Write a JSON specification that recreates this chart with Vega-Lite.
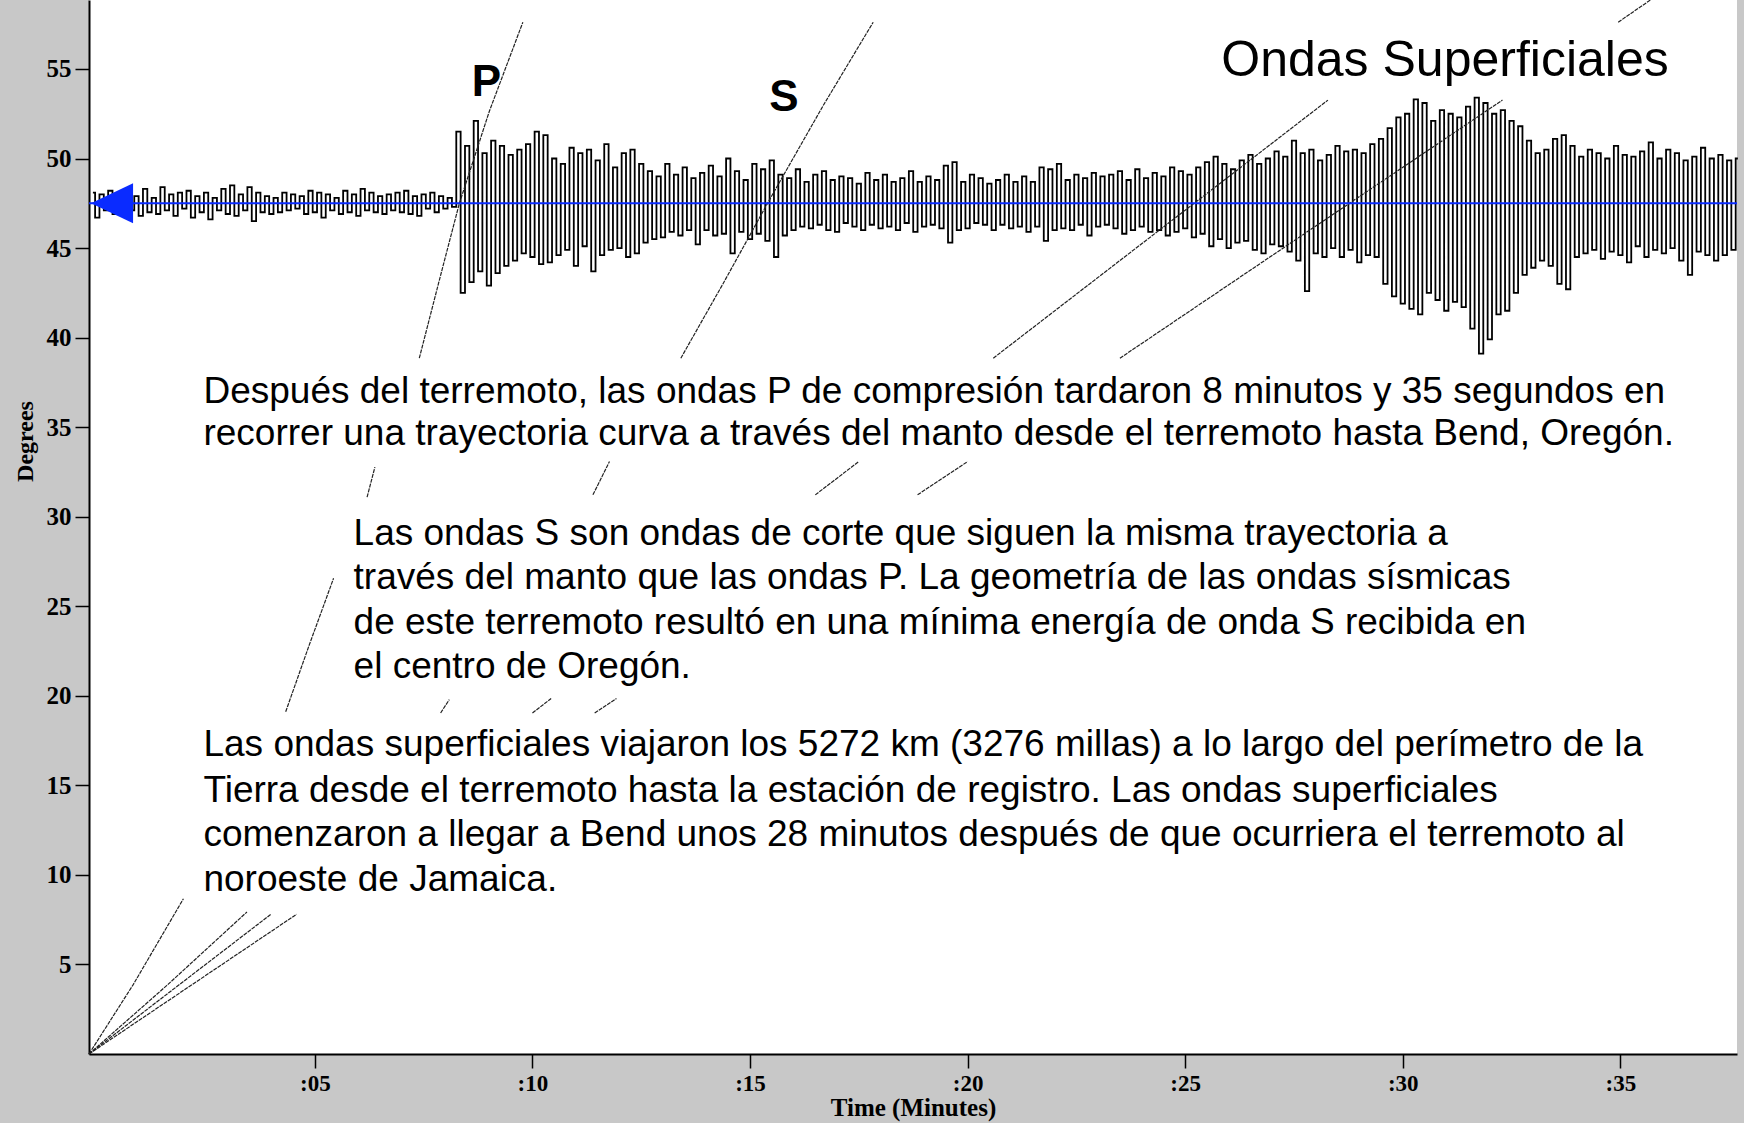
{
  "$schema": "https://vega.github.io/schema/vega-lite/v6.json",
  "width": 1648,
  "height": 1054,
  "autosize": {"type": "none"},
  "padding": {"left": 89, "top": 0, "right": 7, "bottom": 69},
  "background": "#c8c8c8",
  "config": {"view": {"fill": "white", "stroke": null}},
  "datasets": {
    "trace": [
      {"t":-0.1,"v":48.1},{"t":0.0,"v":46.7},{"t":0.1,"v":48.0},{"t":0.2,"v":47.1},{"t":0.3,"v":48.2},{"t":0.4,"v":46.9},{"t":0.5,"v":47.8},{"t":0.6,"v":47.0},{"t":0.7,"v":48.1},{"t":0.8,"v":47.1},
      {"t":0.9,"v":47.9},{"t":1.0,"v":46.8},{"t":1.1,"v":48.3},{"t":1.2,"v":47.0},{"t":1.3,"v":47.8},{"t":1.4,"v":46.9},{"t":1.5,"v":48.4},{"t":1.6,"v":47.1},{"t":1.7,"v":48.0},{"t":1.8,"v":46.8},
      {"t":1.9,"v":48.1},{"t":2.0,"v":47.2},{"t":2.1,"v":48.2},{"t":2.2,"v":46.7},{"t":2.3,"v":47.9},{"t":2.4,"v":47.0},{"t":2.5,"v":48.1},{"t":2.6,"v":46.6},{"t":2.7,"v":47.8},{"t":2.8,"v":47.1},
      {"t":2.9,"v":48.3},{"t":3.0,"v":46.9},{"t":3.1,"v":48.5},{"t":3.2,"v":46.8},{"t":3.3,"v":48.0},{"t":3.4,"v":47.1},{"t":3.5,"v":48.4},{"t":3.6,"v":46.5},{"t":3.7,"v":48.1},{"t":3.8,"v":47.0},
      {"t":3.9,"v":47.9},{"t":4.0,"v":46.9},{"t":4.1,"v":47.8},{"t":4.2,"v":47.0},{"t":4.3,"v":48.1},{"t":4.4,"v":47.1},{"t":4.5,"v":48.0},{"t":4.6,"v":47.2},{"t":4.7,"v":47.9},{"t":4.8,"v":46.9},
      {"t":4.9,"v":48.2},{"t":5.0,"v":47.0},{"t":5.1,"v":48.1},{"t":5.2,"v":46.7},{"t":5.3,"v":48.0},{"t":5.4,"v":47.1},{"t":5.5,"v":47.8},{"t":5.6,"v":46.9},{"t":5.7,"v":48.2},{"t":5.8,"v":47.0},
      {"t":5.9,"v":48.0},{"t":6.0,"v":46.8},{"t":6.1,"v":48.3},{"t":6.2,"v":47.1},{"t":6.3,"v":48.1},{"t":6.4,"v":47.0},{"t":6.5,"v":47.9},{"t":6.6,"v":46.9},{"t":6.7,"v":48.0},{"t":6.8,"v":47.1},
      {"t":6.9,"v":48.1},{"t":7.0,"v":47.0},{"t":7.1,"v":48.2},{"t":7.2,"v":46.9},{"t":7.3,"v":47.9},{"t":7.4,"v":46.8},{"t":7.5,"v":48.0},{"t":7.6,"v":47.2},{"t":7.7,"v":48.1},{"t":7.8,"v":47.0},
      {"t":7.9,"v":47.9},{"t":8.0,"v":47.2},{"t":8.1,"v":47.8},{"t":8.2,"v":47.3},
      {"t":8.3,"v":51.5},{"t":8.4,"v":42.5},{"t":8.5,"v":50.7},{"t":8.6,"v":43.1},{"t":8.7,"v":52.1},{"t":8.8,"v":43.7},{"t":8.9,"v":50.3},{"t":9.0,"v":42.9},{"t":9.1,"v":51.0},{"t":9.2,"v":43.6},
      {"t":9.3,"v":50.7},{"t":9.4,"v":44.0},{"t":9.5,"v":50.2},{"t":9.6,"v":44.3},{"t":9.7,"v":50.5},{"t":9.8,"v":44.7},{"t":9.9,"v":50.8},{"t":10.0,"v":44.5},{"t":10.1,"v":51.5},{"t":10.2,"v":44.1},
      {"t":10.3,"v":51.3},{"t":10.4,"v":44.2},{"t":10.5,"v":50.0},{"t":10.6,"v":44.6},{"t":10.7,"v":49.7},{"t":10.8,"v":44.9},{"t":10.9,"v":50.6},{"t":11.0,"v":44.0},{"t":11.1,"v":50.3},{"t":11.2,"v":45.1},
      {"t":11.3,"v":50.5},{"t":11.4,"v":43.7},{"t":11.5,"v":49.9},{"t":11.6,"v":44.6},{"t":11.7,"v":50.8},{"t":11.8,"v":44.9},{"t":11.9,"v":49.5},{"t":12.0,"v":45.0},{"t":12.1,"v":50.3},{"t":12.2,"v":44.5},
      {"t":12.3,"v":50.5},{"t":12.4,"v":44.7},{"t":12.5,"v":49.7},{"t":12.6,"v":45.3},{"t":12.7,"v":49.3},{"t":12.8,"v":45.5},{"t":12.9,"v":49.0},{"t":13.0,"v":45.6},{"t":13.1,"v":49.7},{"t":13.2,"v":45.9},
      {"t":13.3,"v":49.1},{"t":13.4,"v":45.7},{"t":13.5,"v":49.5},{"t":13.6,"v":46.0},{"t":13.7,"v":48.9},{"t":13.8,"v":45.2},{"t":13.9,"v":49.2},{"t":14.0,"v":46.0},{"t":14.1,"v":49.6},{"t":14.2,"v":45.7},
      {"t":14.3,"v":49.0},{"t":14.4,"v":45.8},{"t":14.5,"v":50.0},{"t":14.6,"v":44.7},{"t":14.7,"v":49.3},{"t":14.8,"v":45.9},{"t":14.9,"v":48.8},{"t":15.0,"v":45.5},{"t":15.1,"v":49.7},{"t":15.2,"v":45.8},
      {"t":15.3,"v":49.4},{"t":15.4,"v":45.4},{"t":15.5,"v":49.9},{"t":15.6,"v":44.5},{"t":15.7,"v":49.1},{"t":15.8,"v":45.7},{"t":15.9,"v":48.9},{"t":16.0,"v":46.0},{"t":16.1,"v":49.4},{"t":16.2,"v":46.2},
      {"t":16.3,"v":48.7},{"t":16.4,"v":46.1},{"t":16.5,"v":49.1},{"t":16.6,"v":46.3},{"t":16.7,"v":49.3},{"t":16.8,"v":46.0},{"t":16.9,"v":48.8},{"t":17.0,"v":45.9},{"t":17.1,"v":49.0},{"t":17.2,"v":46.4},
      {"t":17.3,"v":48.9},{"t":17.4,"v":46.2},{"t":17.5,"v":48.6},{"t":17.6,"v":46.0},{"t":17.7,"v":49.2},{"t":17.8,"v":46.3},{"t":17.9,"v":48.8},{"t":18.0,"v":46.1},{"t":18.1,"v":49.1},{"t":18.2,"v":46.2},
      {"t":18.3,"v":48.7},{"t":18.4,"v":46.0},{"t":18.5,"v":48.9},{"t":18.6,"v":46.4},{"t":18.7,"v":49.3},{"t":18.8,"v":45.9},{"t":18.9,"v":48.7},{"t":19.0,"v":46.2},{"t":19.1,"v":49.0},{"t":19.2,"v":46.3},
      {"t":19.3,"v":48.8},{"t":19.4,"v":46.1},{"t":19.5,"v":49.6},{"t":19.6,"v":45.3},{"t":19.7,"v":49.8},{"t":19.8,"v":46.0},{"t":19.9,"v":48.7},{"t":20.0,"v":46.1},{"t":20.1,"v":49.1},{"t":20.2,"v":46.4},
      {"t":20.3,"v":48.9},{"t":20.4,"v":46.3},{"t":20.5,"v":48.6},{"t":20.6,"v":46.0},{"t":20.7,"v":48.8},{"t":20.8,"v":46.3},{"t":20.9,"v":49.1},{"t":21.0,"v":46.1},{"t":21.1,"v":48.7},{"t":21.2,"v":46.2},
      {"t":21.3,"v":49.0},{"t":21.4,"v":45.9},{"t":21.5,"v":48.7},{"t":21.6,"v":46.2},{"t":21.7,"v":49.5},{"t":21.8,"v":45.4},{"t":21.9,"v":49.4},{"t":22.0,"v":46.0},{"t":22.1,"v":49.7},{"t":22.2,"v":46.1},
      {"t":22.3,"v":48.8},{"t":22.4,"v":46.0},{"t":22.5,"v":49.1},{"t":22.6,"v":46.3},{"t":22.7,"v":48.9},{"t":22.8,"v":45.7},{"t":22.9,"v":49.2},{"t":23.0,"v":46.2},{"t":23.1,"v":49.0},{"t":23.2,"v":46.3},
      {"t":23.3,"v":49.1},{"t":23.4,"v":46.1},{"t":23.5,"v":49.3},{"t":23.6,"v":45.8},{"t":23.7,"v":48.8},{"t":23.8,"v":46.0},{"t":23.9,"v":49.4},{"t":24.0,"v":46.2},{"t":24.1,"v":48.9},{"t":24.2,"v":45.9},
      {"t":24.3,"v":49.2},{"t":24.4,"v":46.0},{"t":24.5,"v":49.0},{"t":24.6,"v":45.7},{"t":24.7,"v":49.5},{"t":24.8,"v":45.9},{"t":24.9,"v":49.3},{"t":25.0,"v":46.1},{"t":25.1,"v":49.1},{"t":25.2,"v":45.6},
      {"t":25.3,"v":49.5},{"t":25.4,"v":45.8},{"t":25.5,"v":49.8},{"t":25.6,"v":45.1},{"t":25.7,"v":50.1},{"t":25.8,"v":45.5},{"t":25.9,"v":49.7},{"t":26.0,"v":45.0},{"t":26.1,"v":49.4},{"t":26.2,"v":45.3},
      {"t":26.3,"v":49.9},{"t":26.4,"v":45.4},{"t":26.5,"v":50.2},{"t":26.6,"v":44.9},{"t":26.7,"v":49.7},{"t":26.8,"v":44.7},{"t":26.9,"v":50.0},{"t":27.0,"v":45.2},{"t":27.1,"v":50.4},{"t":27.2,"v":45.1},
      {"t":27.3,"v":50.1},{"t":27.4,"v":44.8},{"t":27.5,"v":51.0},{"t":27.6,"v":44.3},{"t":27.7,"v":50.3},{"t":27.8,"v":42.6},{"t":27.9,"v":50.5},{"t":28.0,"v":44.7},{"t":28.1,"v":49.9},{"t":28.2,"v":44.5},
      {"t":28.3,"v":50.2},{"t":28.4,"v":45.0},{"t":28.5,"v":50.7},{"t":28.6,"v":44.5},{"t":28.7,"v":50.4},{"t":28.8,"v":44.9},{"t":28.9,"v":50.5},{"t":29.0,"v":44.2},{"t":29.1,"v":50.3},{"t":29.2,"v":44.6},
      {"t":29.3,"v":50.8},{"t":29.4,"v":44.5},{"t":29.5,"v":51.1},{"t":29.6,"v":43.0},{"t":29.7,"v":51.7},{"t":29.8,"v":42.3},{"t":29.9,"v":52.3},{"t":30.0,"v":41.9},{"t":30.1,"v":52.5},{"t":30.2,"v":41.6},
      {"t":30.3,"v":53.3},{"t":30.4,"v":41.3},{"t":30.5,"v":53.1},{"t":30.6,"v":42.5},{"t":30.7,"v":52.1},{"t":30.8,"v":42.1},{"t":30.9,"v":52.7},{"t":31.0,"v":41.5},{"t":31.1,"v":52.5},{"t":31.2,"v":42.0},
      {"t":31.3,"v":52.3},{"t":31.4,"v":41.7},{"t":31.5,"v":52.9},{"t":31.6,"v":40.5},{"t":31.7,"v":53.4},{"t":31.8,"v":39.1},{"t":31.9,"v":53.1},{"t":32.0,"v":39.9},{"t":32.1,"v":52.5},{"t":32.2,"v":41.3},
      {"t":32.3,"v":52.7},{"t":32.4,"v":41.5},{"t":32.5,"v":52.1},{"t":32.6,"v":42.5},{"t":32.7,"v":51.8},{"t":32.8,"v":43.5},{"t":32.9,"v":51.0},{"t":33.0,"v":43.9},{"t":33.1,"v":50.3},{"t":33.2,"v":44.3},
      {"t":33.3,"v":50.5},{"t":33.4,"v":44.0},{"t":33.5,"v":51.1},{"t":33.6,"v":43.0},{"t":33.7,"v":51.3},{"t":33.8,"v":42.7},{"t":33.9,"v":50.7},{"t":34.0,"v":44.5},{"t":34.1,"v":50.1},{"t":34.2,"v":44.7},
      {"t":34.3,"v":50.5},{"t":34.4,"v":44.9},{"t":34.5,"v":50.3},{"t":34.6,"v":44.4},{"t":34.7,"v":50.0},{"t":34.8,"v":44.8},{"t":34.9,"v":50.7},{"t":35.0,"v":44.6},{"t":35.1,"v":50.2},{"t":35.2,"v":44.2},
      {"t":35.3,"v":50.1},{"t":35.4,"v":45.1},{"t":35.5,"v":50.4},{"t":35.6,"v":44.5},{"t":35.7,"v":50.9},{"t":35.8,"v":44.9},{"t":35.9,"v":50.0},{"t":36.0,"v":44.7},{"t":36.1,"v":50.5},{"t":36.2,"v":45.0},
      {"t":36.3,"v":50.3},{"t":36.4,"v":44.3},{"t":36.5,"v":49.9},{"t":36.6,"v":43.5},{"t":36.7,"v":50.1},{"t":36.8,"v":44.8},{"t":36.9,"v":50.6},{"t":37.0,"v":44.6},{"t":37.1,"v":50.0},{"t":37.2,"v":44.3},
      {"t":37.3,"v":50.2},{"t":37.4,"v":44.6},{"t":37.5,"v":49.9},{"t":37.6,"v":44.9},{"t":37.7,"v":50.0}
    ],
    "curves": [
      {"seg":"P1","t":-0.19,"d":0},{"seg":"P1","t":0.83,"d":3.89},{"seg":"P1","t":1.98,"d":8.67},
      {"seg":"P2","t":4.33,"d":19.11},{"seg":"P2","t":4.87,"d":22.83},{"seg":"P2","t":5.43,"d":26.56},
      {"seg":"P3","t":6.2,"d":31.09},{"seg":"P3","t":6.38,"d":32.77},
      {"seg":"P4","t":7.4,"d":38.85},{"seg":"P4","t":7.86,"d":43.2},{"seg":"P4","t":8.32,"d":47.49},{"seg":"P4","t":9.01,"d":52.64},{"seg":"P4","t":9.78,"d":57.61},
      {"seg":"S1","t":-0.19,"d":0},{"seg":"S1","t":1.6,"d":3.83},{"seg":"S1","t":3.44,"d":7.93},
      {"seg":"S2","t":7.89,"d":19.04},{"seg":"S2","t":8.09,"d":19.79},
      {"seg":"S3","t":11.39,"d":31.22},{"seg":"S3","t":11.77,"d":33.08},
      {"seg":"S4","t":13.41,"d":38.85},{"seg":"S4","t":14.38,"d":43.01},{"seg":"S4","t":15.4,"d":47.49},{"seg":"S4","t":16.68,"d":52.95},{"seg":"S4","t":17.83,"d":57.61},
      {"seg":"L1","t":-0.19,"d":0},{"seg":"L1","t":3.99,"d":7.8},
      {"seg":"L2","t":10.0,"d":19.04},{"seg":"L2","t":10.43,"d":19.85},
      {"seg":"L3","t":16.5,"d":31.22},{"seg":"L3","t":17.5,"d":33.08},
      {"seg":"L4","t":20.59,"d":38.85},{"seg":"L4","t":28.28,"d":53.26},
      {"seg":"R1","t":-0.19,"d":0},{"seg":"R1","t":4.58,"d":7.8},
      {"seg":"R2","t":11.43,"d":19.04},{"seg":"R2","t":11.93,"d":19.85},
      {"seg":"R3","t":18.85,"d":31.22},{"seg":"R3","t":20.0,"d":33.08},
      {"seg":"R4","t":23.5,"d":38.85},{"seg":"R4","t":32.29,"d":53.26},
      {"seg":"R5","t":34.95,"d":57.61},{"seg":"R5","t":35.69,"d":58.85}
    ],
    "notes": [
      {"t":2.44,"d":36.99,"txt":"Después del terremoto, las ondas P de compresión tardaron 8 minutos y 35 segundos en"},
      {"t":2.44,"d":34.63,"txt":"recorrer una trayectoria curva a través del manto desde el terremoto hasta Bend, Oregón."},
      {"t":5.89,"d":29.04,"txt":"Las ondas S son ondas de corte que siguen la misma trayectoria a"},
      {"t":5.89,"d":26.56,"txt":"través del manto que las ondas P. La geometría de las ondas sísmicas"},
      {"t":5.89,"d":24.07,"txt":"de este terremoto resultó en una mínima energía de onda S recibida en"},
      {"t":5.89,"d":21.59,"txt":"el centro de Oregón."},
      {"t":2.44,"d":17.24,"txt":"Las ondas superficiales viajaron los 5272 km (3276 millas) a lo largo del perímetro de la"},
      {"t":2.44,"d":14.7,"txt":"Tierra desde el terremoto hasta la estación de registro. Las ondas superficiales"},
      {"t":2.44,"d":12.21,"txt":"comenzaron a llegar a Bend unos 28 minutos después de que ocurriera el terremoto al"},
      {"t":2.44,"d":9.73,"txt":"noroeste de Jamaica."}
    ],
    "phases": [
      {"t":8.94,"d":54.19,"txt":"P"},
      {"t":15.78,"d":53.38,"txt":"S"}
    ],
    "surface": [
      {"t":30.97,"d":55.43,"txt":"Ondas Superficiales"}
    ],
    "baseline": [
      {"t":0.34,"v":47.5}
    ]
  },
  "layer": [
    {
      "data": {"name": "trace"},
      "mark": {"type": "line", "color": "black", "strokeWidth": 1.8, "interpolate": "step"},
      "encoding": {
        "x": {
          "field": "t", "type": "quantitative",
          "scale": {"domain": [-0.19, 37.68], "nice": false, "zero": false},
          "axis": {
            "values": [5, 10, 15, 20, 25, 30, 35],
            "labelExpr": "':' + (datum.value < 10 ? '0' : '') + datum.value",
            "grid": false,
            "domainColor": "black", "domainWidth": 2,
            "tickColor": "black", "tickWidth": 1.5, "tickSize": 14,
            "labelFont": "Liberation Serif", "labelFontWeight": "bold", "labelFontSize": 23, "labelColor": "black",
            "labelPadding": 4,
            "title": "Time (Minutes)",
            "titleFont": "Liberation Serif", "titleFontWeight": "bold", "titleFontSize": 25, "titleColor": "black",
            "titleBaseline": "alphabetic", "titleY": 61
          }
        },
        "y": {
          "field": "v", "type": "quantitative",
          "scale": {"domain": [0, 58.85], "nice": false, "zero": false},
          "axis": {
            "values": [5, 10, 15, 20, 25, 30, 35, 40, 45, 50, 55],
            "grid": false,
            "domainColor": "black", "domainWidth": 2,
            "tickColor": "black", "tickWidth": 1.5, "tickSize": 14,
            "labelFont": "Liberation Serif", "labelFontWeight": "bold", "labelFontSize": 25, "labelColor": "black",
            "labelPadding": 4,
            "title": "Degrees",
            "titleFont": "Liberation Serif", "titleFontWeight": "bold", "titleFontSize": 24, "titleColor": "black",
            "titleAngle": 270, "titleAlign": "center", "titleBaseline": "middle",
            "titleX": -64, "titleY": 441
          }
        }
      }
    },
    {
      "data": {"name": "curves"},
      "mark": {"type": "line", "color": "#222222", "strokeWidth": 1.2, "strokeDash": [4, 1]},
      "encoding": {
        "x": {"field": "t", "type": "quantitative"},
        "y": {"field": "d", "type": "quantitative"},
        "detail": {"field": "seg", "type": "nominal"}
      }
    },
    {
      "data": {"name": "baseline"},
      "mark": {"type": "rule", "color": "#0a2bff", "strokeWidth": 2},
      "encoding": {
        "y": {"field": "v", "type": "quantitative"}
      }
    },
    {
      "data": {"name": "baseline"},
      "mark": {"type": "point", "shape": "M-1,0L1,-0.95L1,0.95Z", "filled": true, "color": "#0a2bff", "opacity": 1, "size": 1764},
      "encoding": {
        "x": {"field": "t", "type": "quantitative"},
        "y": {"field": "v", "type": "quantitative"}
      }
    },
    {
      "data": {"name": "notes"},
      "mark": {"type": "text", "align": "left", "baseline": "middle", "font": "Liberation Sans", "fontSize": 37, "color": "black"},
      "encoding": {
        "x": {"field": "t", "type": "quantitative"},
        "y": {"field": "d", "type": "quantitative"},
        "text": {"field": "txt"}
      }
    },
    {
      "data": {"name": "phases"},
      "mark": {"type": "text", "align": "center", "baseline": "middle", "font": "Liberation Sans", "fontWeight": "bold", "fontSize": 44, "color": "black"},
      "encoding": {
        "x": {"field": "t", "type": "quantitative"},
        "y": {"field": "d", "type": "quantitative"},
        "text": {"field": "txt"}
      }
    },
    {
      "data": {"name": "surface"},
      "mark": {"type": "text", "align": "center", "baseline": "middle", "font": "Liberation Sans", "fontSize": 50, "color": "black"},
      "encoding": {
        "x": {"field": "t", "type": "quantitative"},
        "y": {"field": "d", "type": "quantitative"},
        "text": {"field": "txt"}
      }
    }
  ]
}
